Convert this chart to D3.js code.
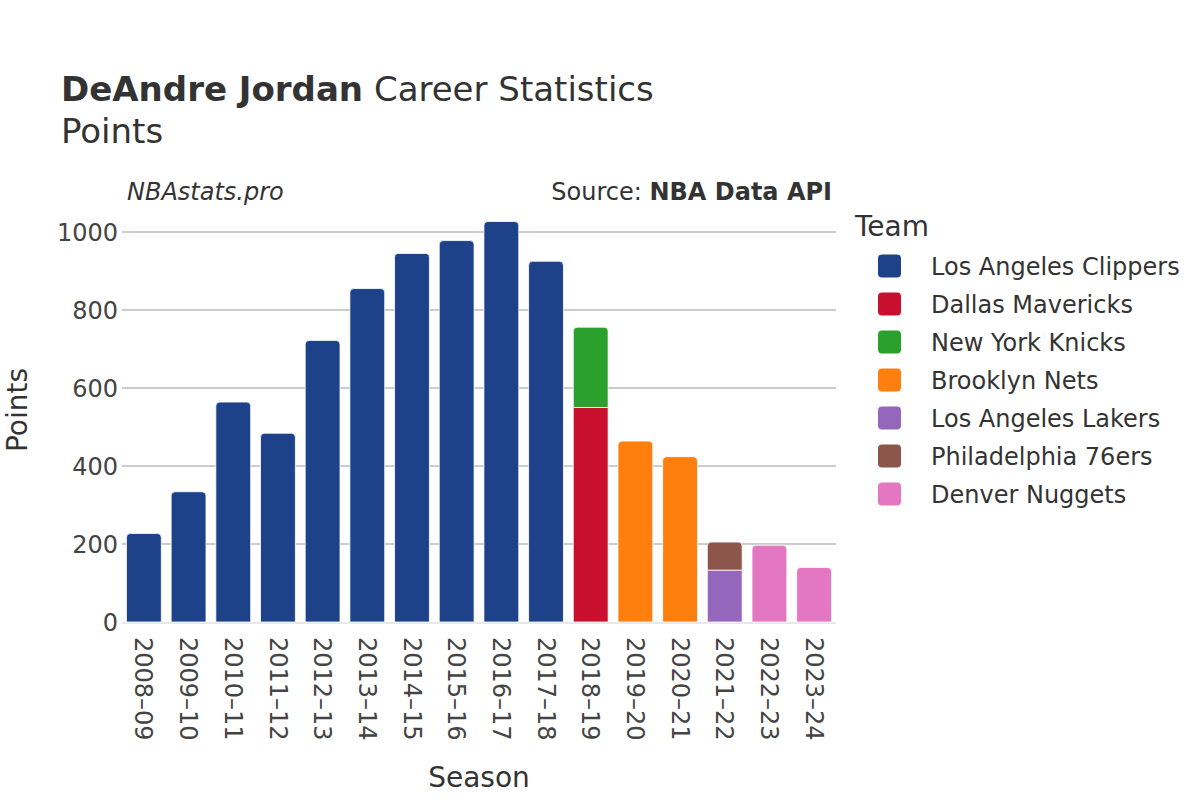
<!DOCTYPE html>
<html><head><meta charset="utf-8">
<script src="https://cdn.jsdelivr.net/npm/d3@7"></script>
<style>
body{margin:0;background:#fff;}
svg text{font-family:"DejaVu Sans",sans-serif;fill:#333;}
</style></head>
<body><svg id="c" width="1200" height="800"></svg>
<script>
const seasons = ["2008–09","2009–10","2010–11","2011–12","2012–13","2013–14","2014–15","2015–16","2016–17","2017–18","2018–19","2019–20","2020–21","2021–22","2022–23","2023–24"];
const teams = ["Los Angeles Clippers","Dallas Mavericks","New York Knicks","Brooklyn Nets","Los Angeles Lakers","Philadelphia 76ers","Denver Nuggets"];
const teamColors = ["#1d428a","#c8102e","#2ca02c","#ff7f0e","#9467bd","#8c564b","#e377c2"];
// points per season for each team (0 = not with team)
const clippers = [227,334,564,484,722,855,945,978,1027,925,0,0,0,0,0,0];
const mavericks = [0,0,0,0,0,0,0,0,0,0,550,0,0,0,0,0];
const knicks = [0,0,0,0,0,0,0,0,0,0,206,0,0,0,0,0];
const nets = [0,0,0,0,0,0,0,0,0,0,0,464,424,0,0,0];
const lakers = [0,0,0,0,0,0,0,0,0,0,0,0,0,133,0,0];
const sixers = [0,0,0,0,0,0,0,0,0,0,0,0,0,72,0,0];
const nuggets = [0,0,0,0,0,0,0,0,0,0,0,0,0,0,197,140];
const yTicks = [0,200,400,600,800,1000];
const seriesValues = [clippers,mavericks,knicks,nets,lakers,sixers,nuggets];

const svg = d3.select("#c");
const L=122,R=836,B=622;
const x = d3.scaleBand().domain(seasons).range([L,R]).paddingInner(0.22).paddingOuter(0.1);
const y = d3.scaleLinear().domain([0,1050]).range([B,B-1050*0.39]);

// gridlines
svg.append("g").selectAll("line").data(yTicks.filter(d=>d>0)).join("line")
  .attr("x1",L).attr("x2",R).attr("y1",d=>y(d)).attr("y2",d=>y(d))
  .attr("stroke","#999").attr("stroke-width",1);
svg.append("line").attr("x1",L).attr("x2",R).attr("y1",B+1).attr("y2",B+1).attr("stroke","#e8e8e8").attr("stroke-width",2);

// y axis
const ya = svg.append("g").attr("transform",`translate(${L},0)`)
  .call(d3.axisLeft(y).tickValues(yTicks).tickFormat(d3.format("d")).tickSize(0).tickPadding(4));
ya.select(".domain").remove();
ya.selectAll(".tick text").style("font-size","24px").style("fill","#444").attr("dy","0.36em");

// x axis
const xa = svg.append("g").attr("transform",`translate(0,${B})`)
  .call(d3.axisBottom(x).tickSize(0));
xa.select(".domain").remove();
xa.selectAll(".tick text").style("font-size","24px").style("fill","#444")
  .attr("transform","rotate(90)").attr("text-anchor","start").attr("x",15).attr("y",0).attr("dy","0.35em");

// stacked bars
const rows = seasons.map((s,i)=>{const o={season:s}; teams.forEach((t,k)=>o[t]=seriesValues[k][i]); return o;});
const stack = d3.stack().keys(teams)(rows);
const topIdx = seasons.map((s,i)=>{let last=-1; teams.forEach((t,k)=>{if(seriesValues[k][i]>0) last=k;}); return last;});
const r=4;
function barPath(x0,w,y0,y1,round){
  if(!round) return `M${x0},${y0}H${x0+w}V${y1}H${x0}Z`;
  return `M${x0},${y0}V${y1+r}Q${x0},${y1} ${x0+r},${y1}H${x0+w-r}Q${x0+w},${y1} ${x0+w},${y1+r}V${y0}Z`;
}
stack.forEach((layer,k)=>{
  svg.append("g").selectAll("path").data(layer.map((d,i)=>({d,i})).filter(o=>o.d[1]-o.d[0]>0)).join("path")
    .attr("d",o=>barPath(x(seasons[o.i]),x.bandwidth(),y(o.d[0]),y(o.d[1]),topIdx[o.i]===k))
    .attr("fill",teamColors[k]).attr("stroke","#fff").attr("stroke-width",0.8);
});

// titles
const t1 = svg.append("text").attr("x",61).attr("y",101).style("font-size","34px");
t1.append("tspan").style("font-weight","bold").text("DeAndre Jordan");
t1.append("tspan").text(" Career Statistics");
svg.append("text").attr("x",61).attr("y",143).style("font-size","34px").text("Points");
svg.append("text").attr("x",127).attr("y",200).style("font-size","24px").style("font-style","italic").text("NBAstats.pro");
const src = svg.append("text").attr("x",832).attr("y",200).attr("text-anchor","end").style("font-size","24px");
src.append("tspan").text("Source: ");
src.append("tspan").style("font-weight","bold").text("NBA Data API");

// axis titles
svg.append("text").attr("transform","translate(27,410) rotate(-90)").attr("text-anchor","middle").style("font-size","28px").text("Points");
svg.append("text").attr("x",479).attr("y",787).attr("text-anchor","middle").style("font-size","28px").text("Season");

// legend
svg.append("text").attr("x",855).attr("y",236).style("font-size","28px").text("Team");
const lg = svg.append("g").selectAll("g").data(teams).join("g")
  .attr("transform",(d,i)=>`translate(878,${266+i*38})`);
lg.append("rect").attr("x",0).attr("y",-11.5).attr("width",23).attr("height",23).attr("rx",4)
  .attr("fill",(d,i)=>teamColors[i]);
lg.append("text").attr("x",53).attr("y",0).attr("dy","0.36em").style("font-size","24px").text(d=>d);
</script></body></html>
